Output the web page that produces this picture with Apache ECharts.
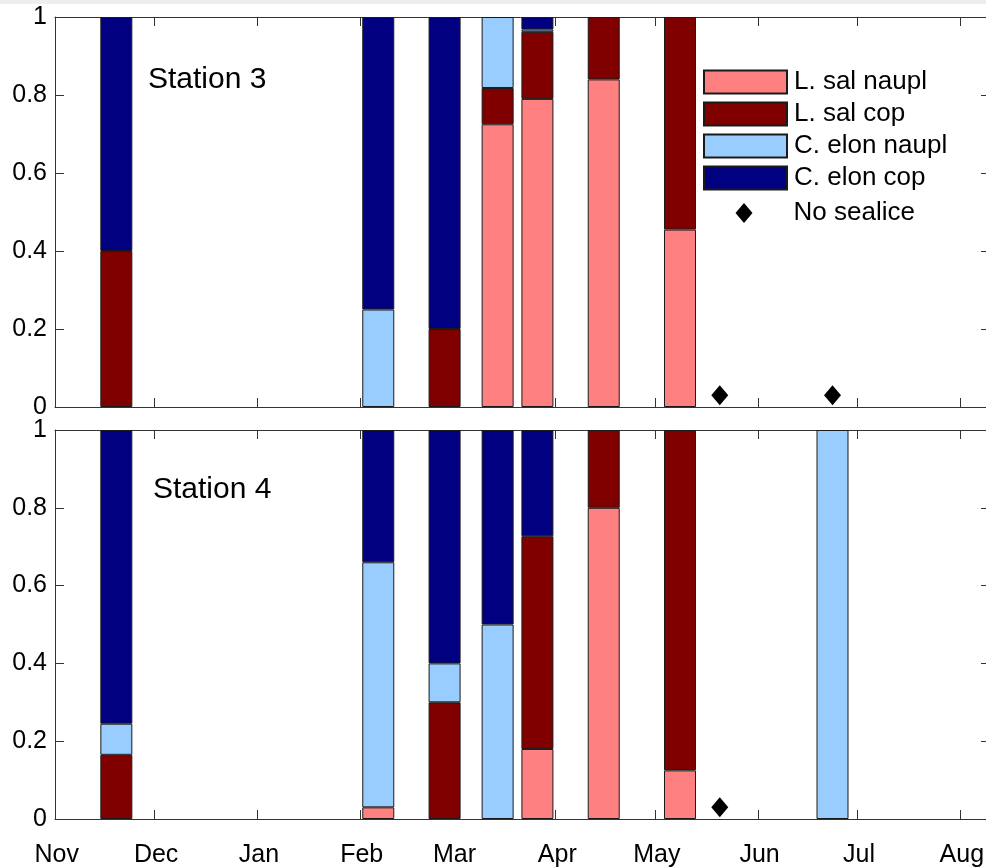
<!DOCTYPE html>
<html>
<head>
<meta charset="utf-8">
<script src="https://cdn.jsdelivr.net/npm/echarts@6/dist/echarts.min.js"></script>
<style>
html,body{margin:0;padding:0;background:#fff;}
#chart{width:986px;height:867px;}
</style>
</head>
<body>
<div id="chart"></div>
<script>
// Days since 1 Nov of sampling dates
var sampleDays = [18, 97, 117, 133, 145, 165, 188, 234];
// Month tick positions (days since 1 Nov) and labels
var monthDays = [0, 30, 61, 92, 120, 151, 181, 212, 242, 273];
var monthLabels = ['Nov', 'Dec', 'Jan', 'Feb', 'Mar', 'Apr', 'May', 'Jun', 'Jul', 'Aug'];
var dayCount = 282;

// Station 3 proportions
var st3LsalNaupl  = [null, null, null, 0.725, 0.79, 0.84, 0.455, null];
var st3LsalCop    = [0.4, null, 0.2, 0.093, 0.172, 0.16, 0.545, null];
var st3CelonNaupl = [null, 0.25, null, 0.182, 0.006, null, null, null];
var st3CelonCop   = [0.6, 0.75, 0.8, null, 0.032, null, null, null];
var st3NoSealiceDays = [200, 234];

// Station 4 proportions
var st4LsalNaupl  = [null, 0.03, null, null, 0.18, 0.8, 0.125, null];
var st4LsalCop    = [0.165, null, 0.3, null, 0.547, 0.2, 0.875, null];
var st4CelonNaupl = [0.08, 0.63, 0.1, 0.5, null, null, null, 1];
var st4CelonCop   = [0.755, 0.34, 0.6, 0.5, 0.273, null, null, null];
var st4NoSealiceDays = [200];

var noSealiceLevel = 0.03;

var seriesNames = ['L. sal naupl', 'L. sal cop', 'C. elon naupl', 'C. elon cop'];
var seriesColors = ['#FF8080', '#800000', '#99CCFF', '#000080'];
var noSealiceName = 'No sealice';

var FONT = '"Liberation Sans", Arial, sans-serif';
var AXC = '#333';

var dayCats = [];
for (var i = 0; i < dayCount; i++) dayCats.push(String(i));

function pairs(vals) { return sampleDays.map(function (d, i) { return [d, vals[i]]; }); }
function isMonthStart(idx) { return monthDays.indexOf(idx) >= 0; }

function xAx(grid, pos, showLabel) {
  return {
    type: 'category', gridIndex: grid, position: pos, data: dayCats, boundaryGap: true,
    axisLine: { show: true, onZero: false, lineStyle: { color: AXC, width: 1 } },
    axisTick: { show: true, inside: true, length: 9, interval: function (idx) { return isMonthStart(idx); }, lineStyle: { color: AXC } },
    axisLabel: {
      show: showLabel, margin: 24, interval: function (idx) { return isMonthStart(idx); },
      fontSize: 25, color: '#000', fontFamily: FONT,
      formatter: function (v, idx) { var k = monthDays.indexOf(Number(v)); return k >= 0 ? monthLabels[k] : ''; }
    },
    splitLine: { show: false }
  };
}
function yAx(grid, pos, showLabel) {
  return {
    type: 'value', gridIndex: grid, position: pos, min: 0, max: 1, interval: 0.2,
    axisLine: { show: true, onZero: false, lineStyle: { color: AXC, width: 1 } },
    axisTick: { show: true, inside: true, length: 9, lineStyle: { color: AXC } },
    axisLabel: { show: showLabel, margin: 8, fontSize: 25, color: '#000', fontFamily: FONT },
    splitLine: { show: false }
  };
}

var stationData = [
  [st3LsalNaupl, st3LsalCop, st3CelonNaupl, st3CelonCop],
  [st4LsalNaupl, st4LsalCop, st4CelonNaupl, st4CelonCop]
];
var noSealice = [st3NoSealiceDays, st4NoSealiceDays];

var series = [];
stationData.forEach(function (st, g) {
  st.forEach(function (vals, k) {
    series.push({
      name: seriesNames[k], type: 'bar', stack: 'st' + g,
      xAxisIndex: g * 2, yAxisIndex: g * 2,
      barWidth: 32,
      itemStyle: { color: seriesColors[k], borderColor: '#1a1a1a', borderWidth: 1, opacity: 1 },
      emphasis: { disabled: true },
      data: pairs(vals)
    });
  });
  series.push({
    name: noSealiceName, type: 'scatter',
    xAxisIndex: g * 2, yAxisIndex: g * 2,
    symbol: 'diamond', symbolSize: [17, 20],
    itemStyle: { color: '#000', opacity: 1 },
    emphasis: { disabled: true },
    data: noSealice[g].map(function (d) { return [d, noSealiceLevel]; })
  });
});

var chart = echarts.init(document.getElementById('chart'), null, { renderer: 'canvas' });
chart.setOption({
  backgroundColor: '#fff',
  animation: false,
  textStyle: { fontFamily: FONT },
  grid: [
    { left: 55, top: 17, width: 935, height: 390, containLabel: false, outerBoundsMode: 'none' },
    { left: 55, top: 430, width: 935, height: 389, containLabel: false, outerBoundsMode: 'none' }
  ],
  xAxis: [xAx(0, 'bottom', false), xAx(0, 'top', false), xAx(1, 'bottom', true), xAx(1, 'top', false)],
  yAxis: [yAx(0, 'left', true), yAx(0, 'right', false), yAx(1, 'left', true), yAx(1, 'right', false)],
  legend: [
    {
      data: seriesNames.map(function (n) { return { name: n, icon: 'rect' }; }),
      orient: 'vertical', left: 703, top: 69, padding: 0,
      itemWidth: 83, itemHeight: 23, itemGap: 6,
      textStyle: { fontSize: 26, color: '#000', fontFamily: FONT, padding: [0, 0, 0, 2] },
      selectedMode: false
    },
    {
      data: [{ name: noSealiceName, icon: 'diamond' }],
      orient: 'vertical', left: 735.5, top: 200, padding: 0,
      itemWidth: 17, itemHeight: 20,
      textStyle: { fontSize: 26, color: '#000', fontFamily: FONT, padding: [0, 0, 0, 36] },
      selectedMode: false
    }
  ],
  graphic: [
    { type: 'rect', left: 0, top: 0, shape: { width: 986, height: 4 }, style: { fill: '#eeeeee' }, silent: true },
    { type: 'text', x: 148, y: 80, style: { text: 'Station 3', fill: '#000', font: '30px ' + FONT, textVerticalAlign: 'middle' } },
    { type: 'text', x: 153, y: 490, style: { text: 'Station 4', fill: '#000', font: '30px ' + FONT, textVerticalAlign: 'middle' } }
  ],
  series: series
});
</script>
</body>
</html>
